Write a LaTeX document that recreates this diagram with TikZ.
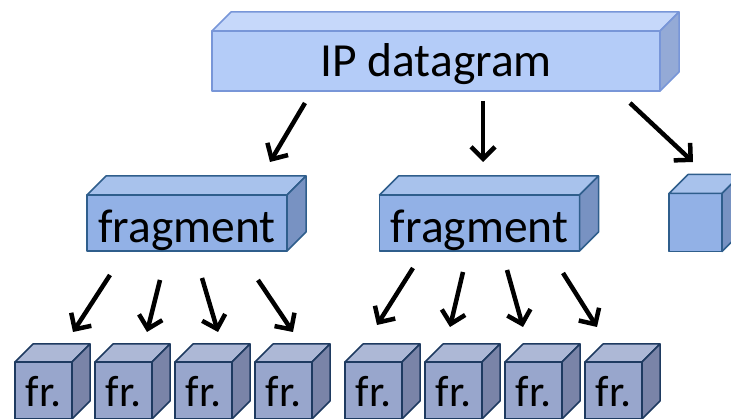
\documentclass[tikz,border=0pt]{standalone}
\usepackage{fontspec}
\setmainfont{Carlito}
\usetikzlibrary{arrows.meta}

\definecolor{dgfront}{HTML}{B4CCF8}
\definecolor{dgtop}{HTML}{C6D8FA}
\definecolor{dgside}{HTML}{94AAD6}
\definecolor{dgline}{HTML}{7896D8}
\definecolor{fgfront}{HTML}{92B1E6}
\definecolor{fgtop}{HTML}{A8C2EC}
\definecolor{fgside}{HTML}{7892C2}
\definecolor{fgline}{HTML}{2F5E8C}
\definecolor{frfront}{HTML}{98A6CC}
\definecolor{frtop}{HTML}{ADB8D6}
\definecolor{frside}{HTML}{7A84A8}
\definecolor{frline}{HTML}{1E3A60}

% top and side face of a box drawn behind node #1
\newcommand\boxfaces[3]{%
  \filldraw[face, draw=#3line, fill=#3top] (#1.north west) -- ++(#2,-#2)
    -- ([shift={(#2,-#2)}]#1.north east) -- (#1.north east) -- cycle;
  \filldraw[face, draw=#3line, fill=#3side] (#1.north east) -- ++(#2,-#2)
    -- ([shift={(#2,-#2)}]#1.south east) -- (#1.south east) -- cycle;
}

\begin{document}
\begin{tikzpicture}[x=1pt, y=-1pt,
    face/.style={line width=1.5pt, line join=round},
    front/.style={face, draw, outer sep=0pt, inner sep=0pt, text depth=0pt},
    dgram/.style={front, draw=dgline, fill=dgfront, minimum width=448pt,
      minimum height=60pt, text height=32pt,
      font=\fontsize{47.5pt}{52pt}\selectfont},
    frag/.style={front, draw=fgline, fill=fgfront, minimum width=200pt,
      minimum height=56pt, text height=40pt,
      font=\fontsize{47.5pt}{52pt}\selectfont},
    cube/.style={front, draw=frline, fill=frfront, minimum width=57pt,
      minimum height=57pt, text height=33pt,
      font=\fontsize{44pt}{48pt}\selectfont},
    arr/.style={line width=4.5pt, -{Straight Barb[length=12pt, width=24pt]}}]
    \clip (0,0) rectangle (731,419);

    \node[dgram] (dg) at (436,61) {IP datagram};
    \boxfaces{dg}{19}{dg}

    \node[frag] (f1) at (187,223) {fragment};
    \node[frag] (f2) at (479.5,223) {fragment};
    \node[frag, minimum width=53pt, minimum height=58pt] (f3) at (695.5,222.5) {};
    \foreach \n in {f1,f2,f3} {
      \boxfaces{\n}{19}{fg}
    }

    \foreach \x [count=\i] in {43.5,123.5,203.5,283.5,373.5,453.5,533.5,613.5} {
      \node[cube] (c\i) at (\x,390.5) {fr.};
      \boxfaces{c\i}{18}{fr}
    }

    % datagram to fragments
    \draw[arr] ([shift={(-131,12)}]dg.south) -- ([shift={(83,-33)}]f1.north);
    \draw[arr] ([shift={(47,10)}]dg.south) -- ([shift={(3.5,-33)}]f2.north);
    \draw[arr] ([shift={(194,12)}]dg.south) -- ([shift={(-2.5,-31.5)}]f3.north);

    % fragments to smaller fragments
    \foreach \p/\c/\sx/\sy/\ex/\ey in {f1/c1/-77/24/29.5/-30, f1/c2/-27/29/23.5/-30,
        f1/c3/15/27/14.5/-30, f1/c4/71/29/9.5/-30, f2/c5/-66.5/17/3.5/-37,
        f2/c6/-16.5/21/-3.5/-35, f2/c7/27.5/19/-10.5/-35, f2/c8/83.5/22/-16.5/-35}
      \draw[arr] ([shift={(\sx,\sy)}]\p.south) -- ([shift={(\ex,\ey)}]\c.north);
\end{tikzpicture}
\end{document}
